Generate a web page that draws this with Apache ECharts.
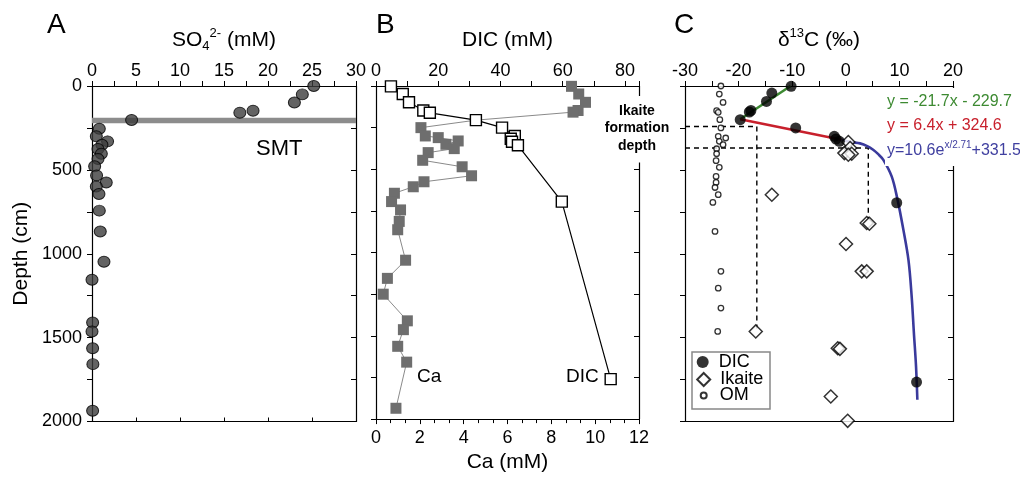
<!DOCTYPE html>
<html><head><meta charset="utf-8">
<script src="https://cdn.jsdelivr.net/npm/echarts@6/dist/echarts.min.js"></script>
<style>html,body{margin:0;padding:0;background:#fff}#c{width:1020px;height:478px}</style>
</head><body><div id="c"></div>
<script>
const FONT = '"Liberation Sans", Arial, Helvetica, sans-serif';

// ---------- Panel A : sulfate ----------
const so4Depth = [0,50,98,147,159,203,255,300,330,350,376,404,435,479,533,575,599,644,743,867,1048,1155,1410,1463,1563,1658,1936];
const so4Value = [25.2,23.9,23.0,18.3,16.8,4.5,0.83,0.49,1.77,1.13,0.68,1.06,0.68,0.3,0.52,1.62,0.49,0.79,0.83,0.94,1.36,0,0.07,0,0.07,0.1,0.07];
const smtDepth = 206;
const so4Ticks = [0,5,10,15,20,25,30];

// ---------- Panel B : DIC and Ca ----------
const dicDepth = [2,48,98,147,161,205,250,300,317,335,356,694,1760];
const dicValue = [4.8,8.6,10.6,15.2,17.3,32.1,40.5,44.6,43.3,43.7,45.6,59.7,75.4];
const caDepth = [2,48,98,147,157,205,250,300,310,330,350,376,400,446,485,539,575,605,644,694,744,813,863,1046,1155,1250,1410,1463,1563,1658,1935];
const caValue = [8.92,9.25,9.56,9.22,8.99,4.56,2.05,2.25,2.84,3.75,3.19,3.57,2.38,2.13,3.93,4.36,2.19,1.70,0.84,0.71,1.12,1.06,0.99,1.35,0.52,0.33,1.43,1.25,0.99,1.40,0.91];

// ---------- Panel C : d13C ----------
const d13cDicDepth = [2,42,92,146,155,201,250,300,316,330,696,1765];
const d13cDicValue = [-10.2,-13.8,-14.8,-17.7,-18.0,-19.7,-9.35,-2.15,-1.83,-1.2,9.5,13.2];
const ikaiteDepth = [334,370,400,404,410,648,817,821,942,1105,1105,1463,1563,1567,1851,1996];
const ikaiteValue = [0.47,0.8,-0.27,1.1,0.47,-13.8,3.9,4.4,0.04,2.97,3.9,-16.8,-1.5,-1.1,-2.8,0.35];
const omDepth = [0,48,98,147,157,201,250,300,310,330,350,374,404,445,485,539,575,605,648,694,867,1105,1205,1324,1463];
const omValue = [-23.3,-23.6,-22.9,-24.1,-23.8,-23.5,-23.3,-23.8,-22.4,-23.6,-22.9,-24.1,-24.1,-24.2,-23.6,-24.2,-24.2,-24.4,-23.8,-24.8,-24.4,-23.3,-23.8,-23.3,-23.9];
// fitted curves
const fitGreenX = [-10.3,-19.7];
const fitGreenDepth = [0,198];
const fitRedX = [-19.7,-0.8];
const fitRedDepth = [198,320];
const fitBlueX = [-0.8,1,2.65,4,5.1,6,7,8.56,9.6,10.7,11.7,12.3,12.7,13.1,13.35];
const fitBlueDepth = [320,334,342,358,380,405,440,539,670,850,1040,1260,1470,1670,1870];
// ikaite formation depth guides
const guideTopX = [-30,-16.6,-16.6];
const guideTopDepth = [241,241,1445];
const guideBotX = [-30,4.2,4.2];
const guideBotDepth = [370,370,790];

const pair = (xs, ys) => xs.map((v, i) => [v, ys[i]]);

const chart = echarts.init(document.getElementById('c'));

const axisLine = {show:true, onZero:false, lineStyle:{color:'#000', width:1.2}};
const lbl = {color:'#000', fontSize:18, fontFamily:FONT};

function depthAxis(gi, pos, extra) {
  return Object.assign({
    type:'value', gridIndex:gi, position:pos, inverse:true, min:0, max:2000, interval:250,
    axisLine:axisLine,
    axisTick:{show:true, inside: pos === 'right', length:5, lineStyle:{color:'#000', width:1}},
    axisLabel:{show:false},
    splitLine:{show:false}
  }, extra || {});
}

const nameRich = {
  t:{fontSize:21, fontFamily:FONT, color:'#000', lineHeight:26},
  sub:{fontSize:13, fontFamily:FONT, color:'#000', lineHeight:14, verticalAlign:'bottom'},
  sup:{fontSize:13, fontFamily:FONT, color:'#000', lineHeight:14, verticalAlign:'top'}
};
const legText = pad => ({fontSize:18, color:'#000', fontFamily:FONT, padding:[0,0,0,pad]});

const option = {
  animation:false,
  backgroundColor:'#fff',
  textStyle:{fontFamily:FONT},
  title:[
    {text:'A', left:42, top:6, textStyle:{fontSize:28, fontWeight:'normal', color:'#000', fontFamily:FONT}},
    {text:'B', left:371, top:6, textStyle:{fontSize:28, fontWeight:'normal', color:'#000', fontFamily:FONT}},
    {text:'C', left:669, top:6, textStyle:{fontSize:28, fontWeight:'normal', color:'#000', fontFamily:FONT}}
  ],
  grid:[
    {left:92, top:86, width:264, height:335.5},
    {left:376, top:86, width:263, height:335.5},
    {left:685, top:86, width:268, height:335.5}
  ],
  xAxis:[
    {type:'value', gridIndex:0, position:'top', min:0, max:30, interval:2.5,
     axisLine:axisLine, axisTick:{show:true, inside:false, length:5, lineStyle:{color:'#000'}},
     axisLabel:Object.assign({margin:6, formatter:v => so4Ticks.includes(v) ? String(v) : ''}, lbl),
     splitLine:{show:false},
     name:'{t|SO}{sub|4}{sup|2-}{t| (mM)}', nameLocation:'middle', nameGap:33,
     nameTextStyle:{rich:nameRich}},
    {type:'value', gridIndex:0, position:'bottom', min:0, max:30, interval:5,
     axisLine:axisLine, axisTick:{show:true, inside:true, length:4, lineStyle:{color:'#000'}},
     axisLabel:{show:false}, splitLine:{show:false}},
    {type:'value', gridIndex:1, position:'top', min:0, max:84.5, interval:10,
     axisLine:axisLine, axisTick:{show:true, inside:false, length:5, lineStyle:{color:'#000'}},
     axisLabel:Object.assign({margin:6, formatter:v => (v % 20 === 0 && v <= 80) ? String(v) : ''}, lbl),
     splitLine:{show:false},
     name:'{t|DIC (mM)}', nameLocation:'middle', nameGap:33, nameTextStyle:{rich:nameRich}},
    {type:'value', gridIndex:1, position:'bottom', min:0, max:12, interval:2,
     axisLine:axisLine, axisTick:{show:true, inside:false, length:5, lineStyle:{color:'#000'}},
     minorTick:{show:true, splitNumber:3, length:4, lineStyle:{color:'#000'}},
     axisLabel:Object.assign({margin:10}, lbl), splitLine:{show:false},
     name:'{t|Ca (mM)}', nameLocation:'middle', nameGap:30, nameTextStyle:{rich:nameRich}},
    {type:'value', gridIndex:2, position:'top', min:-30, max:20, interval:5,
     axisLine:axisLine, axisTick:{show:true, inside:false, length:5, lineStyle:{color:'#000'}},
     axisLabel:Object.assign({margin:6, formatter:v => v % 10 === 0 ? String(v) : ''}, lbl),
     splitLine:{show:false},
     name:'{t|δ}{sup|13}{t|C (‰)}', nameLocation:'middle', nameGap:33, nameTextStyle:{rich:nameRich}},
    {type:'value', gridIndex:2, position:'bottom', min:-30, max:20, interval:5,
     axisLine:axisLine, axisTick:{show:false}, axisLabel:{show:false}, splitLine:{show:false}}
  ],
  yAxis:[
    depthAxis(0, 'left', {
      axisLabel:Object.assign({show:true, margin:10, formatter:v => v % 500 === 0 ? String(v) : ''}, lbl),
      name:'{t|Depth (cm)}', nameLocation:'middle', nameGap:58, nameTextStyle:{rich:nameRich}
    }),
    depthAxis(0, 'right'),
    depthAxis(1, 'left'),
    depthAxis(1, 'right'),
    depthAxis(2, 'left'),
    depthAxis(2, 'right')
  ],
  legend:[
    {data:[{name:'DIC', icon:'circle'}], left:696.7, top:353, orient:'vertical', padding:0, z:20,
     itemWidth:12, itemHeight:12, selectedMode:false, textStyle:legText(5)},
    {data:[{name:'Ikaite', icon:'diamond'}], left:696.2, top:370.5, orient:'vertical', padding:0, z:20,
     itemWidth:13, itemHeight:13, selectedMode:false, textStyle:legText(5)},
    {data:[{name:'OM', icon:'circle'}], left:699.7, top:386.5, orient:'vertical', padding:0, z:20,
     itemWidth:6, itemHeight:6, selectedMode:false, textStyle:legText(8)}
  ],
  series:[
    {name:'SMT', type:'line', xAxisIndex:0, yAxisIndex:0, data:[[0,smtDepth],[30,smtDepth]],
     symbol:'none', lineStyle:{color:'#8c8c8c', width:5.5}, z:1},
    {name:'SO4', type:'scatter', xAxisIndex:0, yAxisIndex:0, data:pair(so4Value, so4Depth),
     symbol:'circle', symbolSize:[12,11], itemStyle:{color:'#3c3c3c', borderColor:'#000', borderWidth:1}, z:3},
    {name:'Ca (mM)', type:'line', xAxisIndex:3, yAxisIndex:2, data:pair(caValue, caDepth),
     symbol:'rect', symbolSize:11, showAllSymbol:true,
     lineStyle:{color:'#8a8a8a', width:1}, itemStyle:{color:'#6e6e6e', borderWidth:0}, z:2},
    {name:'DIC (mM)', type:'line', xAxisIndex:2, yAxisIndex:2, data:pair(dicValue, dicDepth),
     symbol:'rect', symbolSize:11, showAllSymbol:true,
     lineStyle:{color:'#000', width:1.2}, itemStyle:{color:'#fff', borderColor:'#000', borderWidth:1.4}, z:3},
    {name:'guideTop', type:'line', xAxisIndex:4, yAxisIndex:4, data:pair(guideTopX, guideTopDepth),
     symbol:'none', lineStyle:{color:'#000', width:1.4, type:[5,4]}, z:1},
    {name:'guideBot', type:'line', xAxisIndex:4, yAxisIndex:4, data:pair(guideBotX, guideBotDepth),
     symbol:'none', lineStyle:{color:'#000', width:1.4, type:[5,4]}, z:1},
    {name:'fitGreen', type:'line', xAxisIndex:4, yAxisIndex:4, data:pair(fitGreenX, fitGreenDepth),
     symbol:'none', lineStyle:{color:'#3d8a32', width:2.6}, z:2},
    {name:'fitRed', type:'line', xAxisIndex:4, yAxisIndex:4, data:pair(fitRedX, fitRedDepth),
     symbol:'none', lineStyle:{color:'#c8202c', width:2.6}, z:2},
    {name:'fitBlue', type:'line', xAxisIndex:4, yAxisIndex:4, data:pair(fitBlueX, fitBlueDepth),
     symbol:'none', smooth:0.35, lineStyle:{color:'#3a3a9c', width:2.6}, z:2},
    {name:'OM', type:'scatter', xAxisIndex:4, yAxisIndex:4, data:pair(omValue, omDepth),
     symbol:'circle', symbolSize:5.5, itemStyle:{color:'#fff', borderColor:'#000', borderWidth:1.3}, z:3},
    {name:'Ikaite', type:'scatter', xAxisIndex:4, yAxisIndex:4, data:pair(ikaiteValue, ikaiteDepth),
     symbol:'diamond', symbolSize:13, itemStyle:{color:'#fff', borderColor:'#000', borderWidth:1.5}, z:3},
    {name:'DIC', type:'scatter', xAxisIndex:4, yAxisIndex:4, data:pair(d13cDicValue, d13cDicDepth),
     symbol:'circle', symbolSize:11, itemStyle:{color:'#000', borderColor:'#000', borderWidth:0}, z:4}
  ],
  graphic:[
    {type:'text', left:256, top:138, z:10, style:{text:'SMT', fontSize:22, fontFamily:FONT, fill:'#000'}},
    {type:'text', left:417, top:367, z:10, style:{text:'Ca', fontSize:19, fontFamily:FONT, fill:'#000'}},
    {type:'text', left:566, top:367, z:10, style:{text:'DIC', fontSize:19, fontFamily:FONT, fill:'#000'}},
    {type:'text', x:637, y:96, z:10,
     style:{text:'Ikaite\nformation\ndepth', fontSize:14, fontWeight:'bold', lineHeight:17.5, align:'center',
            verticalAlign:'top', fontFamily:FONT, fill:'#000', backgroundColor:'#fff', padding:[6,3,8,3]}},
    {type:'rect', shape:{x:885, y:88, width:135, height:78}, style:{fill:'#fff'}, z:10},
    {type:'text', left:887, top:94, z:11, style:{text:'y = -21.7x - 229.7', fontSize:16, fontFamily:FONT, fill:'#3d8a32'}},
    {type:'text', left:887, top:118, z:11, style:{text:'y = 6.4x + 324.6', fontSize:16, fontFamily:FONT, fill:'#c8202c'}},
    {type:'text', left:887, top:140, z:11,
     style:{text:'{b|y=10.6e}{s|x/2.71}{b|+331.5}', fontFamily:FONT,
            rich:{b:{fontSize:16, fill:'#4040a0', color:'#4040a0', lineHeight:22, fontFamily:FONT},
                  s:{fontSize:10, fill:'#4040a0', color:'#4040a0', lineHeight:12, verticalAlign:'top', fontFamily:FONT}}}},
    {type:'rect', shape:{x:692, y:352, width:78, height:57}, style:{fill:'#fff', stroke:'#888', lineWidth:1.5}, z:1}
  ]
};
chart.setOption(option);
</script>
</body></html>
